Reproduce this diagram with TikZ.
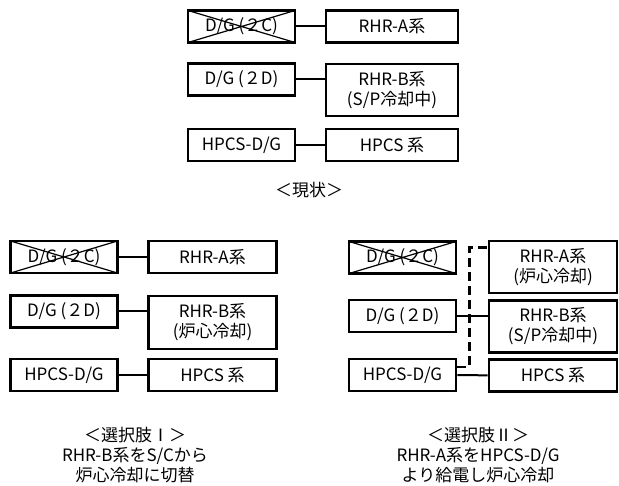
\documentclass[tikz,border=0pt]{standalone}
\usepackage{fontspec}
\setmainfont{Noto Sans CJK JP}
\usetikzlibrary{positioning}
\tikzset{
  link/.style={line width=2.0pt, draw=black},
  every node/.style={anchor=center}
}
\begin{document}
\begin{tikzpicture}[
  x=1pt, y=-1pt,
  font=\fontsize{17}{20}\selectfont,
  box/.style={draw=black, fill=white, line width=2.7pt, minimum height=32pt, inner sep=1pt, align=center},
  gen/.style={box, minimum width=107pt},
  sys/.style={box, minimum width=128pt},
  tallsys/.style={sys, minimum height=52pt},
  lost/.style={gen, path picture={\draw[line width=1.2pt] (path picture bounding box.north west) -- (path picture bounding box.south east) (path picture bounding box.south west) -- (path picture bounding box.north east);}},
  dashlink/.style={link, line width=2.4pt, dash pattern=on 9pt off 5pt},
  caption/.style={align=center, font=\fontsize{17}{20}\selectfont}
]
\useasboundingbox (0,0) rectangle (619,486);
\node[lost] (dgC0) at (241.5,26.5) {D/G (２C)};
\node[sys, minimum width=132pt] (rhrA0) at (392,26.5) {RHR-A系};
\node[gen] (dgD0) at (241.5,79.5) {D/G (２D)};
\node[tallsys, minimum width=132pt] (rhrB0) at (392,90) {RHR-B系\\(S/P冷却中)};
\node[gen] (hpdg0) at (241.5,145) {HPCS-D/G};
\node[sys, minimum width=132pt] (hpcs0) at (392,145) {HPCS 系};
\node[caption] (cap0) at (309,190) {＜現状＞};
\draw[link] (dgC0) -- (rhrA0);
\draw[link] (dgD0) -- (dgD0 -| rhrB0.west);
\draw[link] (hpdg0) -- (hpcs0);

\node[lost] (dgC1) at (64,257) {D/G (２C)};
\node[sys] (rhrA1) at (212.5,257) {RHR-A系};
\node[gen] (dgD1) at (64,311.5) {D/G (２D)};
\node[tallsys, minimum height=53pt] (rhrB1) at (212.5,322.5) {RHR-B系\\(炉心冷却)};
\node[gen] (hpdg1) at (64,375) {HPCS-D/G};
\node[sys] (hpcs1) at (212.5,375) {HPCS 系};
\node[caption] (cap1) at (135,455) {＜選択肢Ⅰ＞\\RHR-B系をS/Cから\\炉心冷却に切替};
\draw[link] (dgC1) -- (rhrA1);
\draw[link] (dgD1) -- (dgD1 -| rhrB1.west);
\draw[link] (hpdg1) -- (hpcs1);

\node[lost] (dgC2) at (402.5,257.5) {D/G (２C)};
\node[tallsys] (rhrA2) at (553,267) {RHR-A系\\(炉心冷却)};
\node[gen] (dgD2) at (402.5,316) {D/G (２D)};
\node[tallsys] (rhrB2) at (553,326.5) {RHR-B系\\(S/P冷却中)};
\node[gen] (hpdg2) at (402.5,375) {HPCS-D/G};
\node[sys] (hpcs2) at (553,375.5) {HPCS 系};
\node[caption] (cap2) at (478,455) {＜選択肢Ⅱ＞\\RHR-A系をHPCS-D/G\\より給電し炉心冷却};
\draw[link] (dgD2) -- (dgD2 -| rhrB2.west);
\draw[link] (hpdg2) -- (hpcs2);
\draw[dashlink] ([yshift=8pt]hpdg2.east) -- ++(12,0) |- ([yshift=-8pt]rhrA2.north west);
\end{tikzpicture}
\end{document}
